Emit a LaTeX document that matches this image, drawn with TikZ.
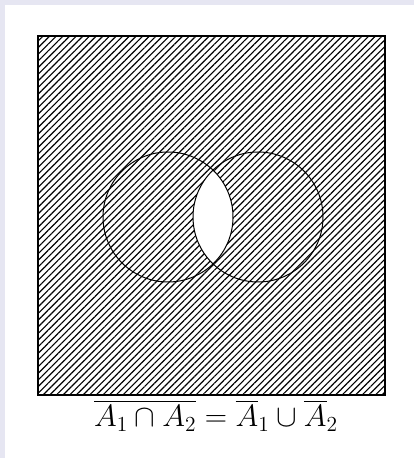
\documentclass[tikz,border=0pt]{standalone}
\usepackage{amsmath}
\usepackage{amssymb}
\usepackage{xcolor}
\usetikzlibrary{patterns.meta}

\definecolor{pagebg}{RGB}{230,230,242}

\begin{document}
\begin{tikzpicture}[
    x=1pt, y=1pt,
    outline/.style={draw, line width=1.3pt},
    hatch/.style={pattern={Lines[angle=45, distance=4.7pt, line width=1.15pt]}, pattern color=black},
    label/.style={font=\fontsize{22}{26}\selectfont, inner sep=0pt, scale=1.49},
]

% Page
\fill[pagebg] (0,0) rectangle (414,458);
\fill[white] (5,0) rectangle (414,453);
\useasboundingbox (0,0) rectangle (414,458);

% Universe and sets
\coordinate (sw) at (38,63);
\coordinate (ne) at (385,422);
\coordinate (c1) at (168,241);
\coordinate (c2) at (258,241);

% Hatched complement of the intersection
\fill[hatch] (sw) rectangle (ne);
\begin{scope}
  \clip (c1) circle[radius=65];
  \fill[white] (c2) circle[radius=65];
\end{scope}

% Outlines
\draw[outline] (sw) rectangle (ne);
\draw[outline, line width=1pt] (c1) circle[radius=65];
\draw[outline, line width=1pt] (c2) circle[radius=65];

% Caption
\node[label, anchor=base] (law) at (216,31) {$\overline{A_1 \cap A_2} = \overline{A}_1 \cup \overline{A}_2$};

\end{tikzpicture}
\end{document}
